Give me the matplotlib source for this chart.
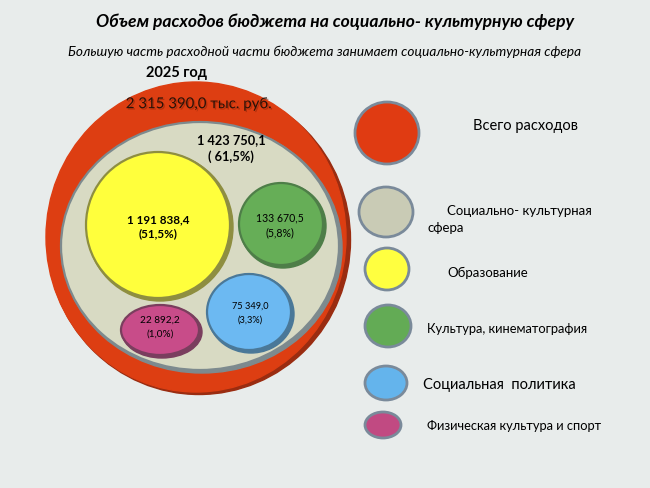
import matplotlib
matplotlib.use("Agg")
import matplotlib.pyplot as plt
import matplotlib.patheffects as pe
from matplotlib.patches import Ellipse

plt.rcParams['font.family'] = ['Lato', 'Open Sans', 'DejaVu Sans']

# data
year = "2025 год"
total = 2315390.0
categories = ["Социально- культурная сфера", "Образование", "Культура, кинематография",
              "Социальная  политика", "Физическая культура и спорт"]
values = [1423750.1, 1191838.4, 133670.5, 75349.0, 22892.2]
shares = [61.5, 51.5, 5.8, 3.3, 1.0]

colors = ["#D8DAC3", "#FFFF3C", "#66AE57", "#6CB9F2", "#C84C89"]
edge = ["#7D8A8E", "#8E8E40", "#4E7E48", "#4A7898", "#7A3E5E"]
red, red_dark = "#DD3E12", "#9A2C10"

# layout: centre x, centre y, width, height (pixels)
bubbles = [(200, 246, 278, 248), (158, 225, 144, 146), (281, 224, 84, 82),
           (249, 312, 84, 76), (160, 330, 78, 50)]
legend_pos = [(386, 212, 54, 50), (387, 269, 44, 42), (388, 326, 46, 42),
              (386, 383, 42, 34), (383, 425, 36, 26)]


def fmt(v):
    return f"{v:,.1f}".replace(",", " ").replace(".", ",")


fig = plt.figure(figsize=(6.5, 4.88), dpi=100)
fig.patch.set_facecolor("#E8ECEB")
ax = fig.add_axes([0, 0, 1, 1])
ax.set_xlim(0, 650)
ax.set_ylim(488, 0)
ax.axis("off")

# total circle
ax.add_patch(Ellipse((199, 240), 303, 309, color=red_dark, zorder=1))
ax.add_patch(Ellipse((196, 237), 300, 310, color=red, zorder=2))

for i, (x, y, w, h) in enumerate(bubbles):
    ax.add_patch(Ellipse((x + 2, y + 2), w + 2, h + 2, color=edge[i], zorder=3 + i * 2))
    ax.add_patch(Ellipse((x, y), w, h, facecolor=colors[i], edgecolor=edge[i],
                         lw=1.6, zorder=4 + i * 2))

# labels on the circles
ax.text(176, 73, year, ha="center", va="center", fontsize=10.5, fontweight="bold", zorder=20)
ax.text(199, 104, fmt(total) + " тыс. руб.", ha="center", va="center", fontsize=10.8,
        color="#2A1208", zorder=20,
        path_effects=[pe.withSimplePatchShadow(offset=(1, -1), shadow_rgbFace="#8A2206", alpha=0.5)])

# x, y of value, y of share, font size, weight
txt = [(231, 140, 157, 9.2, "bold"), (158, 220, 234, 8.4, "bold"), (280, 218, 233, 7.6, "normal"),
       (250, 306, 320, 6.6, "normal"), (160, 320, 334, 7.2, "normal")]
for i, (x, y1, y2, fs, fw) in enumerate(txt):
    pct = f"({shares[i]:.1f}%)".replace(".", ",")
    if i == 0:
        pct = pct.replace("(", "( ")
    ax.text(x, y1, fmt(values[i]), ha="center", va="center", fontsize=fs, fontweight=fw, zorder=20)
    ax.text(x, y2, pct, ha="center", va="center", fontsize=fs, fontweight=fw, zorder=20)

# legend
ax.add_patch(Ellipse((387, 133), 64, 62, facecolor="#E03B12", edgecolor="#7A8A9A", lw=2, zorder=5))
ax.text(473, 126, "Всего расходов", ha="left", va="center", fontsize=10.5)
leg_fc = ["#C9CBB5", "#FFFF40", "#63AB55", "#64B4EC", "#C14A82"]
for i, (x, y, w, h) in enumerate(legend_pos):
    ax.add_patch(Ellipse((x, y), w, h, facecolor=leg_fc[i], edgecolor="#7A8A9A", lw=2, zorder=5))

ax.text(447, 211, "Социально- культурная", ha="left", va="center", fontsize=9.5)
ax.text(428, 228, "сфера", ha="left", va="center", fontsize=9.5)
ax.text(447, 273, categories[1], ha="left", va="center", fontsize=9.5)
ax.text(427, 329, categories[2], ha="left", va="center", fontsize=9.3)
ax.text(423, 385, categories[3], ha="left", va="center", fontsize=10.5)
ax.text(427, 426, categories[4], ha="left", va="center", fontsize=9.3)

# titles
ax.text(335, 22, "Объем расходов бюджета на социально- культурную сферу", ha="center", va="center",
        fontsize=12.6, fontweight="bold", fontstyle="italic")
ax.text(325, 52, "Большую часть расходной части бюджета занимает социально-культурная сфера",
        ha="center", va="center", fontsize=9.8, fontstyle="italic")

fig.savefig("out.png", dpi=100, facecolor=fig.get_facecolor())
